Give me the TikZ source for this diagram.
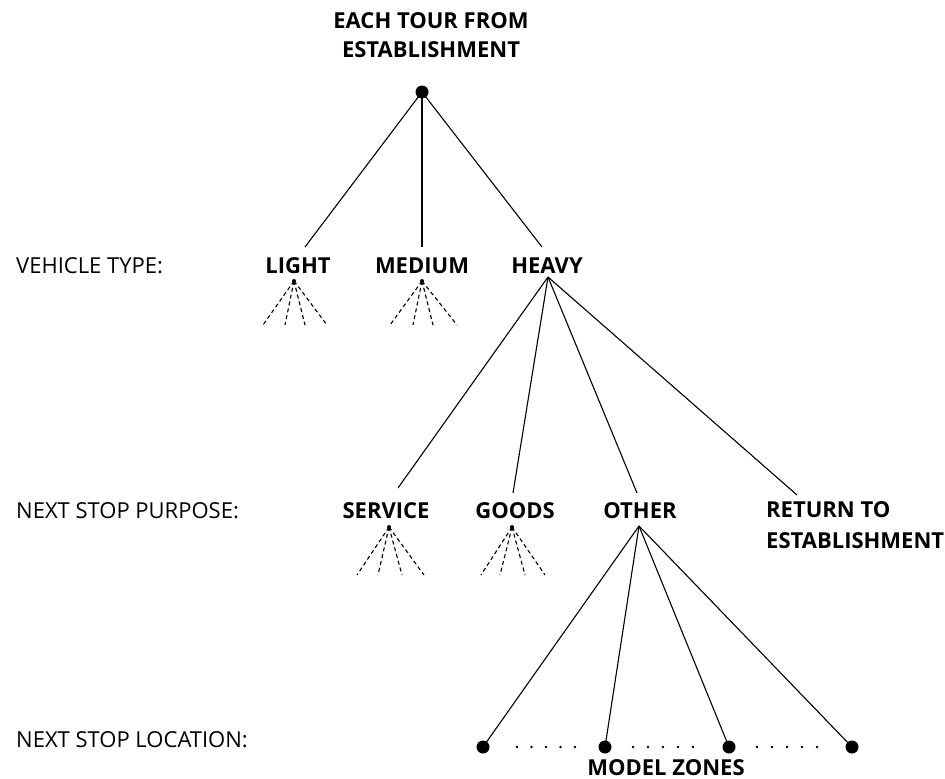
\documentclass[tikz,border=0pt]{standalone}
\usepackage{fontspec}
\setmainfont{Open Sans}
\begin{document}
\begin{tikzpicture}[x=1pt,y=-1pt,
  lab/.style={font=\fontsize{22}{26}\selectfont\bfseries, inner sep=0pt, anchor=base},
  side/.style={font=\fontsize{22}{26}\selectfont, inner sep=0pt, anchor=base west},
  link/.style={line width=1.1pt},
  fanline/.style={line width=1.1pt, dash pattern=on 4pt off 3pt},
  bigdot/.style={circle, fill, inner sep=0pt, minimum size=13pt},
  apexdot/.style={circle, fill, inner sep=0pt, minimum size=4pt},
  tinydot/.style={circle, fill, inner sep=0pt, minimum size=2.6pt},
  ]
\useasboundingbox (0,0) rectangle (945,779);

% title
\node[lab] (title1) at (431,28) {EACH TOUR FROM};
\node[lab] (title2) at (431,57) {ESTABLISHMENT};
\node[bigdot] (root) at (422,92) {};

% side labels
\node[side] (vt) at (16,273) {VEHICLE TYPE:};
\node[side] (nsp) at (16,518) {NEXT STOP PURPOSE:};
\node[side] (nsl) at (16,747) {NEXT STOP LOCATION:};

% vehicle types
\node[lab] (light) at (298,273) {LIGHT};
\node[lab] (medium) at (422,273) {MEDIUM};
\node[lab] (heavy) at (547,273) {HEAVY};
\coordinate (lightTop) at (305,247);
\coordinate (mediumTop) at (422,247);
\coordinate (heavyTop) at (542,247);
\draw[link] (root.center) -- (lightTop);
\draw[link] (root.center) -- (mediumTop);
\draw[link] (root.center) -- (heavyTop);

% fans under light and medium
\node[apexdot] (lightFan) at (294,281) {};
\node[apexdot] (mediumFan) at (422,281) {};
\foreach \x [count=\i] in {263,285,305,327}{
  \coordinate (lf\i) at (\x,325);
  \draw[fanline] (lightFan.center) -- (lf\i);
}
\foreach \x [count=\i] in {390,413,433,457}{
  \coordinate (mf\i) at (\x,325);
  \draw[fanline] (mediumFan.center) -- (mf\i);
}

% heavy branches
\coordinate (heavyApex) at (548,277);
\node[lab] (service) at (386,518) {SERVICE};
\node[lab] (goods) at (515,518) {GOODS};
\node[lab] (other) at (640,518) {OTHER};
\node[lab, anchor=base west] (ret1) at (766,517) {RETURN TO};
\node[lab, anchor=base west] (ret2) at (766,548) {ESTABLISHMENT};
\coordinate (serviceTop) at (398,488);
\coordinate (goodsTop) at (513,493);
\coordinate (otherTop) at (637,493);
\coordinate (retTop) at (797,495);
\draw[link] (heavyApex) -- (serviceTop);
\draw[link] (heavyApex) -- (goodsTop);
\draw[link] (heavyApex) -- (otherTop);
\draw[link] (heavyApex) -- (retTop);

% fans under service and goods
\node[apexdot] (serviceFan) at (389,527) {};
\node[apexdot] (goodsFan) at (512,527) {};
\foreach \x [count=\i] in {357,378,402,424}{
  \coordinate (sf\i) at (\x,575);
  \draw[fanline] (serviceFan.center) -- (sf\i);
}
\foreach \x [count=\i] in {481,500,525,545}{
  \coordinate (gf\i) at (\x,575);
  \draw[fanline] (goodsFan.center) -- (gf\i);
}

% zones
\coordinate (otherApex) at (639,526);
\node[bigdot] (z1) at (483,747) {};
\node[bigdot] (z2) at (605,747) {};
\node[bigdot] (z3) at (729,747) {};
\node[bigdot] (z4) at (852,747) {};
\foreach \z in {z1,z2,z3,z4}{
  \draw[link] (otherApex) -- (\z.center);
}
\foreach \x in {517,531.5,546,560.5,575,633,648,663,678,693,757,772,787,802,817}{
  \node[tinydot] at (\x,747) {};
}
\node[lab] (zones) at (666,775) {MODEL ZONES};
\end{tikzpicture}
\end{document}
